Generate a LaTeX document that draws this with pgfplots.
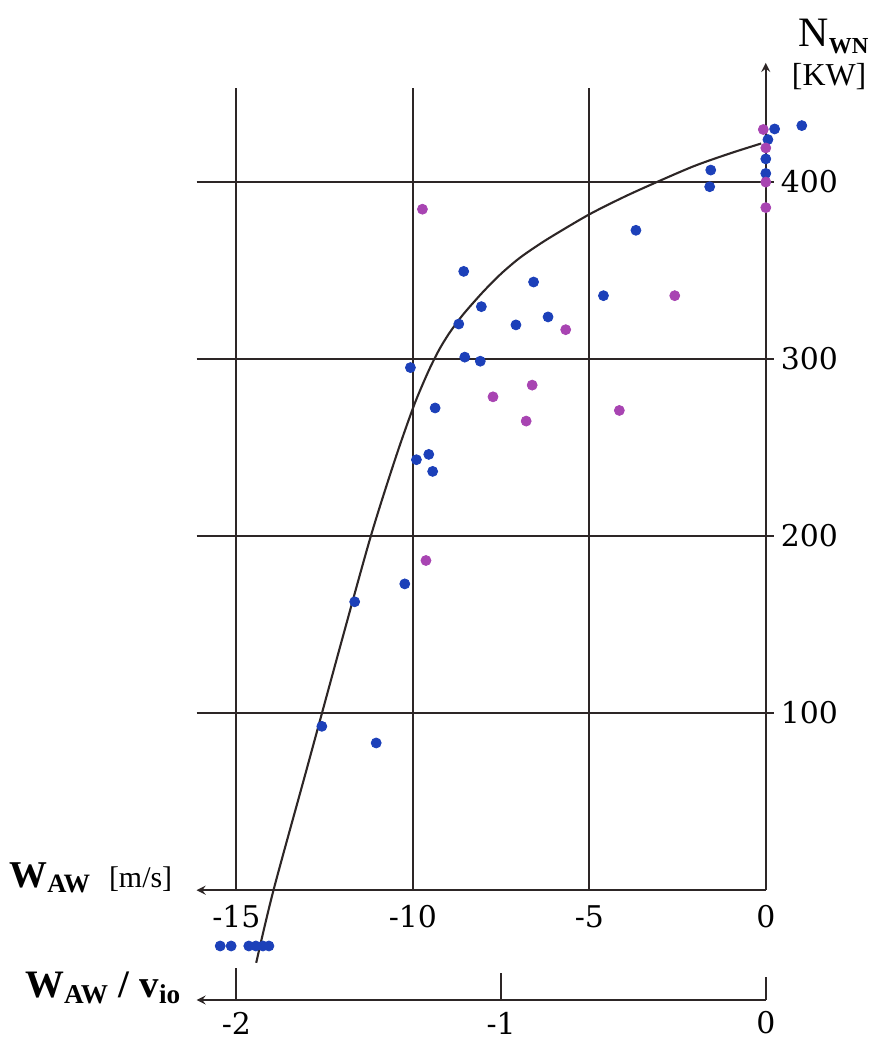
\documentclass[border=0pt]{standalone}
\usepackage{fontspec}
\setmainfont{Liberation Serif}
\newfontfamily\numfont{DejaVu Serif}
\usepackage{pgfplots}
\pgfplotsset{compat=1.18}
\definecolor{dotblue}{RGB}{28,64,185}
\definecolor{dotmag}{RGB}{168,68,178}
\definecolor{linecol}{RGB}{45,38,38}
\begin{document}
\begin{tikzpicture}
\begin{axis}[
  x=17.7pt, y=0.8885pt,
  xmin=-16.13, xmax=0, ymin=0, ymax=467,
  axis x line=bottom, axis y line=right,
  x axis line style={stealth-, line width=1pt, draw=linecol},
  y axis line style={-stealth, line width=1pt, draw=linecol},
  xtick={-15,-10,-5,0}, xticklabels={-15,-10,-5,0},
  ytick={100,200,300,400}, yticklabels={100,200,300,400},
  x tick style={draw=none},
  y tick style={line width=1pt, draw=linecol},
  tick align=outside, major tick length=4pt,
  ymajorgrids, grid style={line width=1pt, draw=linecol},
  tick label style={font=\numfont\fontsize{15}{17}\selectfont},
  clip=false,
]
% invisible frame for proportions
\path (axis cs:-21.7,-83.3) rectangle (axis cs:3.08,502.5);
% vertical grid lines
\draw[line width=1pt, linecol] (axis cs:-15,0) -- (axis cs:-15,453);
\draw[line width=1pt, linecol] (axis cs:-10,0) -- (axis cs:-10,453);
\draw[line width=1pt, linecol] (axis cs:-5,0) -- (axis cs:-5,453);
% second axis W_AW / v_io
\draw[line width=1pt, linecol, stealth-] (axis cs:-16.13,-62) -- (axis cs:0,-62);
\draw[line width=1pt, linecol] (axis cs:-15,-62) -- (axis cs:-15,-44);
\draw[line width=1pt, linecol] (axis cs:-7.5,-62) -- (axis cs:-7.5,-47);
\draw[line width=1pt, linecol] (axis cs:0,-62) -- (axis cs:0,-49);
\node[font=\numfont\fontsize{15}{17}\selectfont] at (axis cs:-15,-75) {-2};
\node[font=\numfont\fontsize{15}{17}\selectfont] at (axis cs:-7.5,-75) {-1};
\node[font=\numfont\fontsize{15}{17}\selectfont] at (axis cs:0,-75) {0};
% axis titles
\node[anchor=east, inner sep=0pt] at (axis cs:-16.81,7) {\fontsize{19}{20}\selectfont\bfseries W\textsubscript{AW}\hspace{9pt}\mdseries\fontsize{15}{16}\selectfont[m/s]};
\node[anchor=east, inner sep=0pt] at (axis cs:-16.55,-55) {\fontsize{19.5}{20}\selectfont\bfseries W\textsubscript{AW}\hspace{5pt}/\hspace{5pt}v\textsubscript{io}};
\node[anchor=west, inner sep=0pt] at (axis cs:0.92,482) {\fontsize{21}{24}\selectfont N\raisebox{-0.18em}{\fontsize{11.5}{12}\selectfont\bfseries WN}};
\node[anchor=west, inner sep=0pt] at (axis cs:0.73,459) {\fontsize{16}{17}\selectfont [KW]};
% fitted curve
\addplot[smooth, line width=1.05pt, linecol, no marks] coordinates {
  (-14.44,-41) (-13.95,0) (-13.0,69) (-12.0,142) (-11.19,200) (-10.5,243.5)
  (-10.0,272) (-9.75,284.3) (-9.5,295.5) (-9.25,305.3) (-9.0,313.5)
  (-8.75,320.5) (-8.5,326.8) (-8.0,338) (-7.5,348) (-7.0,356.5)
  (-6.5,363.5) (-6.0,369.8) (-5.0,381.5) (-4.0,391.5) (-3.0,400.5)
  (-2.0,409) (-1.0,416) (-0.13,421.5)
};
% blue points
\addplot[only marks, mark=*, mark size=2.5pt, dotblue] coordinates {
  (-10.07,295) (-8.56,349.3) (-6.58,343.3) (-4.60,335.6) (-3.68,372.5)
  (-8.06,329.4) (-8.70,319.6) (-7.08,319.1) (-6.17,323.6) (-8.53,300.9)
  (-8.09,298.6) (-9.37,272.2) (-9.55,246) (-9.90,243) (-9.44,236.4)
  (-10.23,172.9) (-11.65,162.8) (-12.58,92.5) (-11.04,83.1)
  (0.25,429.7) (1.02,431.6) (0.06,423.7) (0,412.8) (0,404.6)
  (-1.56,406.5) (-1.59,397.1)
  (-15.46,-31.5) (-15.15,-31.5) (-14.65,-31.5) (-14.45,-31.5) (-14.25,-31.5) (-14.08,-31.5)
};
% magenta points
\addplot[only marks, mark=*, mark size=2.5pt, dotmag] coordinates {
  (-9.73,384.4) (-2.58,335.6) (-5.67,316.4) (-6.62,285.1) (-7.73,278.5)
  (-6.79,264.8) (-4.15,270.8) (-9.63,186.1) (-0.07,429.4) (0,419)
  (0,399.7) (0,385.3)
};
\end{axis}
\end{tikzpicture}
\end{document}
